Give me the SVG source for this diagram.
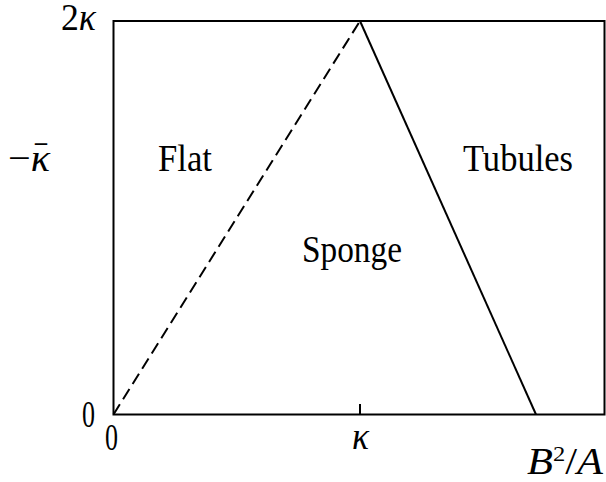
<svg xmlns="http://www.w3.org/2000/svg" width="606" height="482" viewBox="0 0 606 482">
<style>
.t{font-family:"Liberation Serif","DejaVu Serif",serif;font-size:38px;fill:#000}
.i{font-style:italic}
.ln{stroke:#000;stroke-width:2;fill:none}
</style>
<rect width="606" height="482" fill="#fff"/>
<g id="connectors">
<rect class="ln" x="113.5" y="21" width="491" height="393.5"/>
<line class="ln" x1="360" y1="404" x2="360" y2="414.5"/>
<line class="ln" x1="113.5" y1="414.5" x2="360" y2="21" stroke-dasharray="12,6"/>
<line class="ln" x1="360" y1="21" x2="536" y2="414.5"/>
</g>
<g id="labels">
<text class="t" x="61" y="30" font-size="34" textLength="35" lengthAdjust="spacingAndGlyphs">2<tspan class="i">κ</tspan></text>
<text class="t" x="8" y="171" textLength="42" lengthAdjust="spacingAndGlyphs">−<tspan class="i">κ</tspan></text>
<text class="t" x="35" y="172" font-size="30" textLength="12" lengthAdjust="spacingAndGlyphs">¯</text>
<text class="t" x="82" y="427" textLength="13" lengthAdjust="spacingAndGlyphs">0</text>
<text class="t" x="105" y="450" textLength="13" lengthAdjust="spacingAndGlyphs">0</text>
<text class="t i" x="352" y="449" textLength="17" lengthAdjust="spacingAndGlyphs">κ</text>
<text class="t" x="527" y="474" font-size="34" textLength="76" lengthAdjust="spacingAndGlyphs"><tspan class="i">B</tspan><tspan font-size="22" dy="-13">2</tspan><tspan dy="13">/</tspan><tspan class="i">A</tspan></text>
</g>
<g id="flat"><text class="t" x="158" y="171" textLength="54" lengthAdjust="spacingAndGlyphs">Flat</text></g>
<g id="sponge"><text class="t" x="302" y="262" textLength="100" lengthAdjust="spacingAndGlyphs">Sponge</text></g>
<g id="tubules"><text class="t" x="463" y="171" textLength="110" lengthAdjust="spacingAndGlyphs">Tubules</text></g>
</svg>
